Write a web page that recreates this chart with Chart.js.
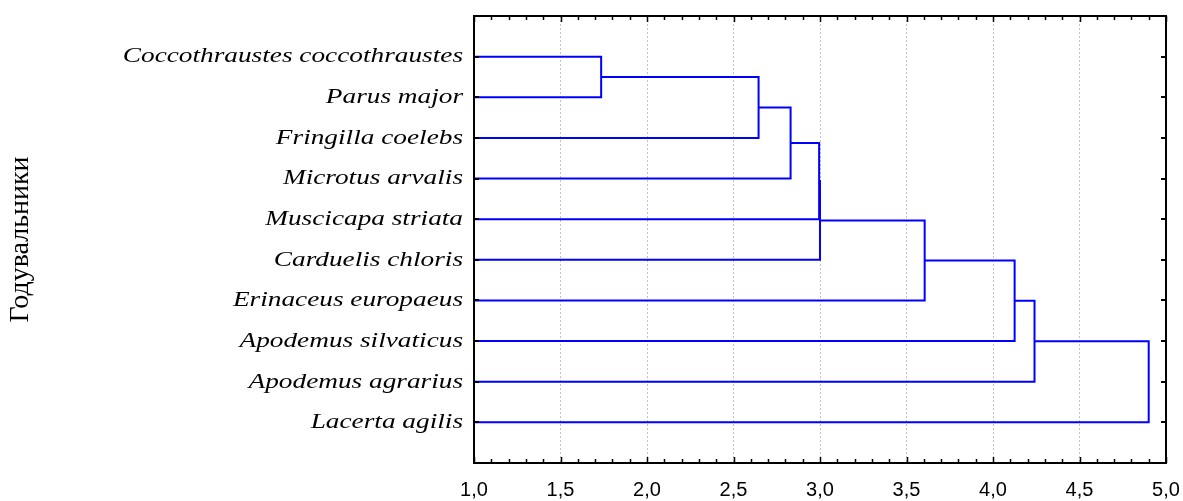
<!DOCTYPE html>
<html><head><meta charset="utf-8">
<script src="https://cdn.jsdelivr.net/npm/chart.js@4.4.1/dist/chart.umd.min.js"></script>
<style>html,body{margin:0;padding:0;background:#fff;overflow:hidden}</style>
</head><body>
<canvas id="c" width="1183" height="501"></canvas>
<script>
// ---- data ----
const leaves = [
  'Coccothraustes coccothraustes',
  'Parus major',
  'Fringilla coelebs',
  'Microtus arvalis',
  'Muscicapa striata',
  'Carduelis chloris',
  'Erinaceus europaeus',
  'Apodemus silvaticus',
  'Apodemus agrarius',
  'Lacerta agilis'
];
// nodes 0..9 are leaves, node 10+k is the cluster made by merge k
const mergeA = [0, 10, 11, 12, 13, 14, 15, 16, 17];
const mergeB = [1, 2, 3, 4, 5, 6, 7, 8, 9];
const mergeHeights = [1.735, 2.645, 2.83, 2.995, 3.00, 3.605, 4.125, 4.24, 4.90];
const xTicks = [1.0, 1.5, 2.0, 2.5, 3.0, 3.5, 4.0, 4.5, 5.0];
const yTitle = 'Годувальники';

// ---- style ----
const LINE_COLOR = '#0000ff';
const LABEL_STRETCH = 1.24;

// ---- build dendrogram segments ----
const nodeX = leaves.map(() => xTicks[0]);
const nodeY = leaves.map((_, i) => i);
const datasets = [];
mergeHeights.forEach((h, k) => {
  const a = mergeA[k], b = mergeB[k];
  datasets.push({
    data: [
      {x: nodeX[a], y: nodeY[a]},
      {x: h, y: nodeY[a]},
      {x: h, y: nodeY[b]},
      {x: nodeX[b], y: nodeY[b]}
    ],
    showLine: true,
    borderColor: LINE_COLOR,
    borderWidth: 2,
    pointRadius: 0,
    pointHoverRadius: 0,
    tension: 0,
    fill: false,
    borderJoinStyle: 'miter'
  });
  nodeX.push(h);
  nodeY.push((nodeY[a] + nodeY[b]) / 2);
});

const framePlugin = {
  id: 'frame',
  beforeDraw(chart) {
    const y = chart.scales.y;
    if (!y._stretched) {
      const orig = y.drawLabels;
      y.drawLabels = function (area) {
        const ctx = this.ctx;
        const ax = this.right - this.options.ticks.padding;
        ctx.save();
        ctx.translate(ax, 0); ctx.scale(LABEL_STRETCH, 1); ctx.translate(-ax, 0);
        orig.call(this, area);
        ctx.restore();
      };
      y._stretched = true;
    }
  },
  afterDraw(chart) {
    const {ctx, chartArea: a, scales: {x, y}} = chart;
    ctx.save();
    ctx.strokeStyle = '#000';
    ctx.lineWidth = 1.5;
    const x0 = xTicks[0], x1 = xTicks[xTicks.length - 1];
    for (let i = 0; i <= Math.round((x1 - x0) * 10); i++) {
      const v = x0 + i / 10;
      const px = Math.round(x.getPixelForValue(v)) + 0.5;
      const major = i % 5 === 0;
      const len = major ? 6 : 4;
      ctx.beginPath();
      ctx.moveTo(px, a.top); ctx.lineTo(px, a.top + len);
      ctx.moveTo(px, a.bottom); ctx.lineTo(px, a.bottom - len);
      ctx.stroke();
    }
    ctx.lineWidth = 2;
    leaves.forEach((_, i) => {
      const py = Math.round(y.getPixelForValue(i));
      ctx.beginPath();
      ctx.moveTo(a.left, py); ctx.lineTo(a.left + 5, py);
      ctx.moveTo(a.right, py); ctx.lineTo(a.right - 5, py);
      ctx.stroke();
    });
    ctx.lineWidth = 2;
    ctx.strokeRect(a.left, a.top, a.right - a.left, a.bottom - a.top);
    ctx.restore();
  }
};

new Chart(document.getElementById('c'), {
  type: 'scatter',
  data: {datasets},
  options: {
    responsive: false,
    animation: false,
    events: [],
    layout: {padding: {top: 16, right: 17, left: 0, bottom: 0}},
    plugins: {legend: {display: false}, tooltip: {enabled: false}},
    scales: {
      x: {
        type: 'linear',
        min: xTicks[0],
        max: xTicks[xTicks.length - 1],
        afterBuildTicks: s => { s.ticks = xTicks.map(v => ({value: v})); },
        afterFit: s => { s.height = 38; s.paddingLeft = 0; s.paddingRight = 0; },
        ticks: {
          callback: v => v.toFixed(1).replace('.', ','),
          font: {family: 'Liberation Sans', size: 20},
          color: '#000',
          padding: 15,
          maxRotation: 0,
          autoSkip: false
        },
        grid: {
          drawTicks: false,
          lineWidth: 1,
          color: c => (c.tick && (c.tick.value === xTicks[0] || c.tick.value === xTicks[xTicks.length - 1])) ? 'rgba(0,0,0,0)' : '#c2c2c2'
        },
        border: {display: false, dash: [2, 2]}
      },
      y: {
        type: 'linear',
        reverse: true,
        min: -1,
        max: leaves.length,
        afterBuildTicks: s => { s.ticks = leaves.map((_, i) => ({value: i})); },
        afterFit: s => { s.width = 474; s.paddingTop = 0; s.paddingBottom = 0; },
        ticks: {
          callback: v => leaves[v] !== undefined ? leaves[v] : '',
          font: {family: 'Liberation Serif', style: 'italic', size: 22},
          color: '#000',
          padding: 11,
          autoSkip: false
        },
        grid: {display: false, drawTicks: false},
        border: {display: false},
        title: {
          display: true,
          text: yTitle,
          font: {family: 'Liberation Serif', size: 28},
          color: '#000',
          padding: {top: 4, bottom: 0}
        }
      }
    }
  },
  plugins: [framePlugin]
});
</script>
</body></html>
